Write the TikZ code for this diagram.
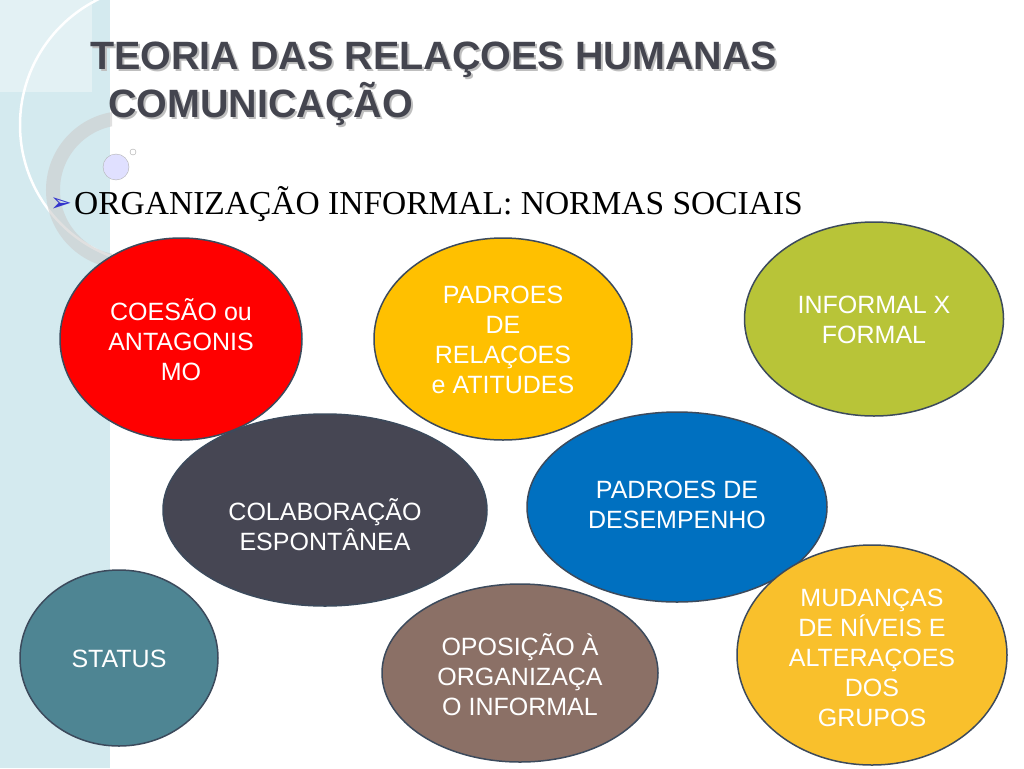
\documentclass[tikz,border=0pt]{standalone}
\usepackage{fontspec}
\setmainfont{Liberation Sans}
\newfontfamily\serifft{Liberation Serif}
\newfontfamily\dejavu{DejaVu Sans}
\usetikzlibrary{shapes.geometric}
\begin{document}
\begin{tikzpicture}[x=1pt,y=-1pt,
  bub/.style={ellipse,draw=bubline,line width=1.5pt,inner sep=0pt},
  txt/.style={text=white,align=center,font=\fontsize{25}{30}\selectfont}]
\definecolor{bubline}{HTML}{3C4A5C}
\definecolor{strip}{HTML}{D4EAEF}
\definecolor{titc}{HTML}{44454F}
\useasboundingbox (0,0) rectangle (1024,768);
\fill[white] (0,0) rectangle (1024,768);
\fill[strip] (0,0) rectangle (110,768);
\fill[white,opacity=0.35] (0,0) rectangle (92,92);
\begin{scope}
\clip (0,0) rectangle (112,768);
\draw[white,line width=2.5pt] (160,125) circle (140);
\draw[gray!40,opacity=0.6,line width=14pt] (125,190) circle (72);
\end{scope}
\draw[gray!60,fill=blue!12] (116,167) circle (13);
\draw[gray!70] (133,152) circle (3);
\node[anchor=west,inner sep=0pt,font=\bfseries\fontsize{39.5}{40}\selectfont,text=black!25] at (92,62) {TEORIA DAS RELAÇOES HUMANAS};
\node[anchor=west,inner sep=0pt,font=\bfseries\fontsize{39.5}{40}\selectfont,text=titc] (t1) at (90,60) {TEORIA DAS RELAÇOES HUMANAS};
\node[anchor=west,inner sep=0pt,font=\bfseries\fontsize{39.5}{40}\selectfont,text=black!25] at (110,106) {COMUNICAÇÃO};
\node[anchor=west,inner sep=0pt,font=\bfseries\fontsize{39.5}{40}\selectfont,text=titc] (t2) at (108,104) {COMUNICAÇÃO};
\node[anchor=west,inner sep=0pt,font=\dejavu\fontsize{26}{28}\selectfont,text=blue!60!gray] (ar) at (50,205) {➢};
\node[anchor=west,inner sep=0pt,font=\serifft\fontsize{33.5}{36}\selectfont] (sub) at (74,204) {ORGANIZAÇÃO INFORMAL: NORMAS SOCIAIS};
\node[bub,fill={rgb,255:red,255;green,0;blue,0},minimum width=242,minimum height=202] (e1) at (181,339) {};
\node[txt] at (181,340) {COESÃO ou\\ANTAGONIS\\MO};
\node[bub,fill={rgb,255:red,255;green,192;blue,0},minimum width=258,minimum height=202] (e2) at (503,339) {};
\node[txt] at (503,340) {PADROES\\DE\\RELAÇOES\\e ATITUDES};
\node[bub,fill={rgb,255:red,184;green,196;blue,56},minimum width=259,minimum height=194] (e3) at (874,319) {};
\node[txt] at (874,320) {INFORMAL X\\FORMAL};
\node[bub,fill={rgb,255:red,70;green,70;blue,83},minimum width=324,minimum height=192] (e4) at (325,510) {};
\node[txt] at (325,525) {COLABORAÇÃO\\ESPONTÂNEA};
\node[bub,fill={rgb,255:red,0;green,112;blue,192},minimum width=300,minimum height=190] (e5) at (677,507) {};
\node[txt] at (677,505) {PADROES DE\\DESEMPENHO};
\node[bub,fill={rgb,255:red,78;green,133;blue,147},minimum width=198,minimum height=176] (e6) at (119,658) {};
\node[txt] at (119,659) {STATUS};
\node[bub,fill={rgb,255:red,139;green,112;blue,102},minimum width=276,minimum height=178] (e7) at (520,673) {};
\node[txt] at (520,675) {OPOSIÇÃO À\\ORGANIZAÇA\\O INFORMAL};
\node[bub,fill={rgb,255:red,249;green,192;blue,44},minimum width=270,minimum height=220] (e8) at (872,655) {};
\node[txt] at (872,658) {MUDANÇAS\\DE NÍVEIS E\\ALTERAÇOES\\DOS\\GRUPOS};
\end{tikzpicture}
\end{document}
